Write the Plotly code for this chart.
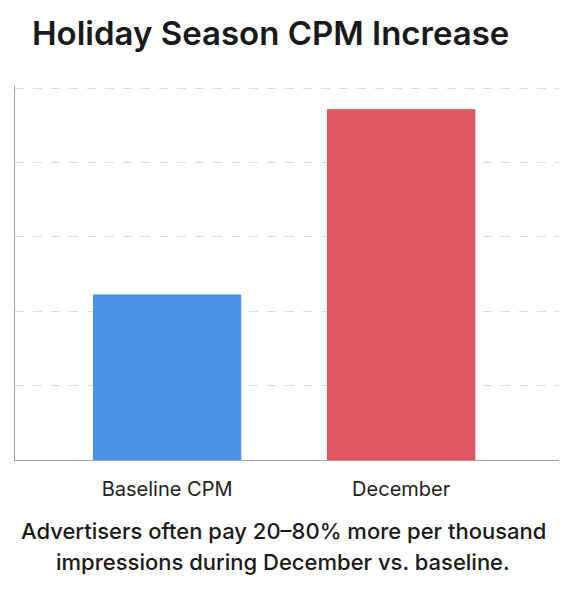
import plotly.graph_objects as go

categories = ["Baseline CPM", "December"]
values = [2.22, 4.71]
bar_colors = ["#4A93E8", "#DC5A60"]
edge_colors = ["#4A93E8", "#E0505A"]

title_text = "Holiday Season CPM Increase"
caption_lines = [
    "Advertisers often pay 20–80% more per thousand",
    "impressions during December vs. baseline.",
]

# page body has an 8px default margin, so the figure is offset by 8px
OFF = 8
W, H = 567 - OFF, 591 - OFF
ml, mr, mt, mb = 15 - OFF, 2, 86 - OFF, 131

fig = go.Figure(
    go.Bar(
        x=categories,
        y=values,
        width=0.63,
        marker=dict(color=bar_colors, line=dict(color=edge_colors, width=1)),
        hoverinfo="skip",
    )
)

fig.update_layout(
    width=W,
    height=H,
    margin=dict(l=ml, r=mr, t=mt, b=mb),
    paper_bgcolor="white",
    plot_bgcolor="white",
    showlegend=False,
    font=dict(family="Inter, Roboto, sans-serif", color="#222"),
    title=dict(
        text=title_text,
        x=(32 - OFF) / W,
        xref="container",
        xanchor="left",
        y=1 - (33 - OFF) / H,
        yref="container",
        yanchor="middle",
        font=dict(family="Inter", size=33, color="#1a1a1a", weight=600),
    ),
)

fig.update_xaxes(
    range=[-0.65, 1.70],
    showline=True,
    linecolor="#a0a0a0",
    linewidth=1,
    showgrid=False,
    ticks="",
    ticklabelstandoff=11,
    tickfont=dict(family="Inter", size=20, color="#222"),
)
fig.update_yaxes(
    range=[0, 5.03],
    tickvals=[1, 2, 3, 4, 5],
    showline=True,
    linecolor="#a0a0a0",
    linewidth=1,
    showgrid=True,
    gridcolor="#dddddd",
    griddash="dash",
    gridwidth=1,
    showticklabels=False,
    ticks="",
    zeroline=False,
)

plot_h = H - mt - mb
for line, ypx in zip(caption_lines, [531, 562]):
    fig.add_annotation(
        text=line,
        xref="paper",
        yref="paper",
        x=(283 - 15) / (W - ml - mr),
        y=-((ypx - OFF) - (H - mb)) / plot_h,
        xanchor="center",
        yanchor="middle",
        showarrow=False,
        font=dict(family="Inter", size=22, color="#1a1a1a", weight=500),
    )

fig.write_html("out.html")
